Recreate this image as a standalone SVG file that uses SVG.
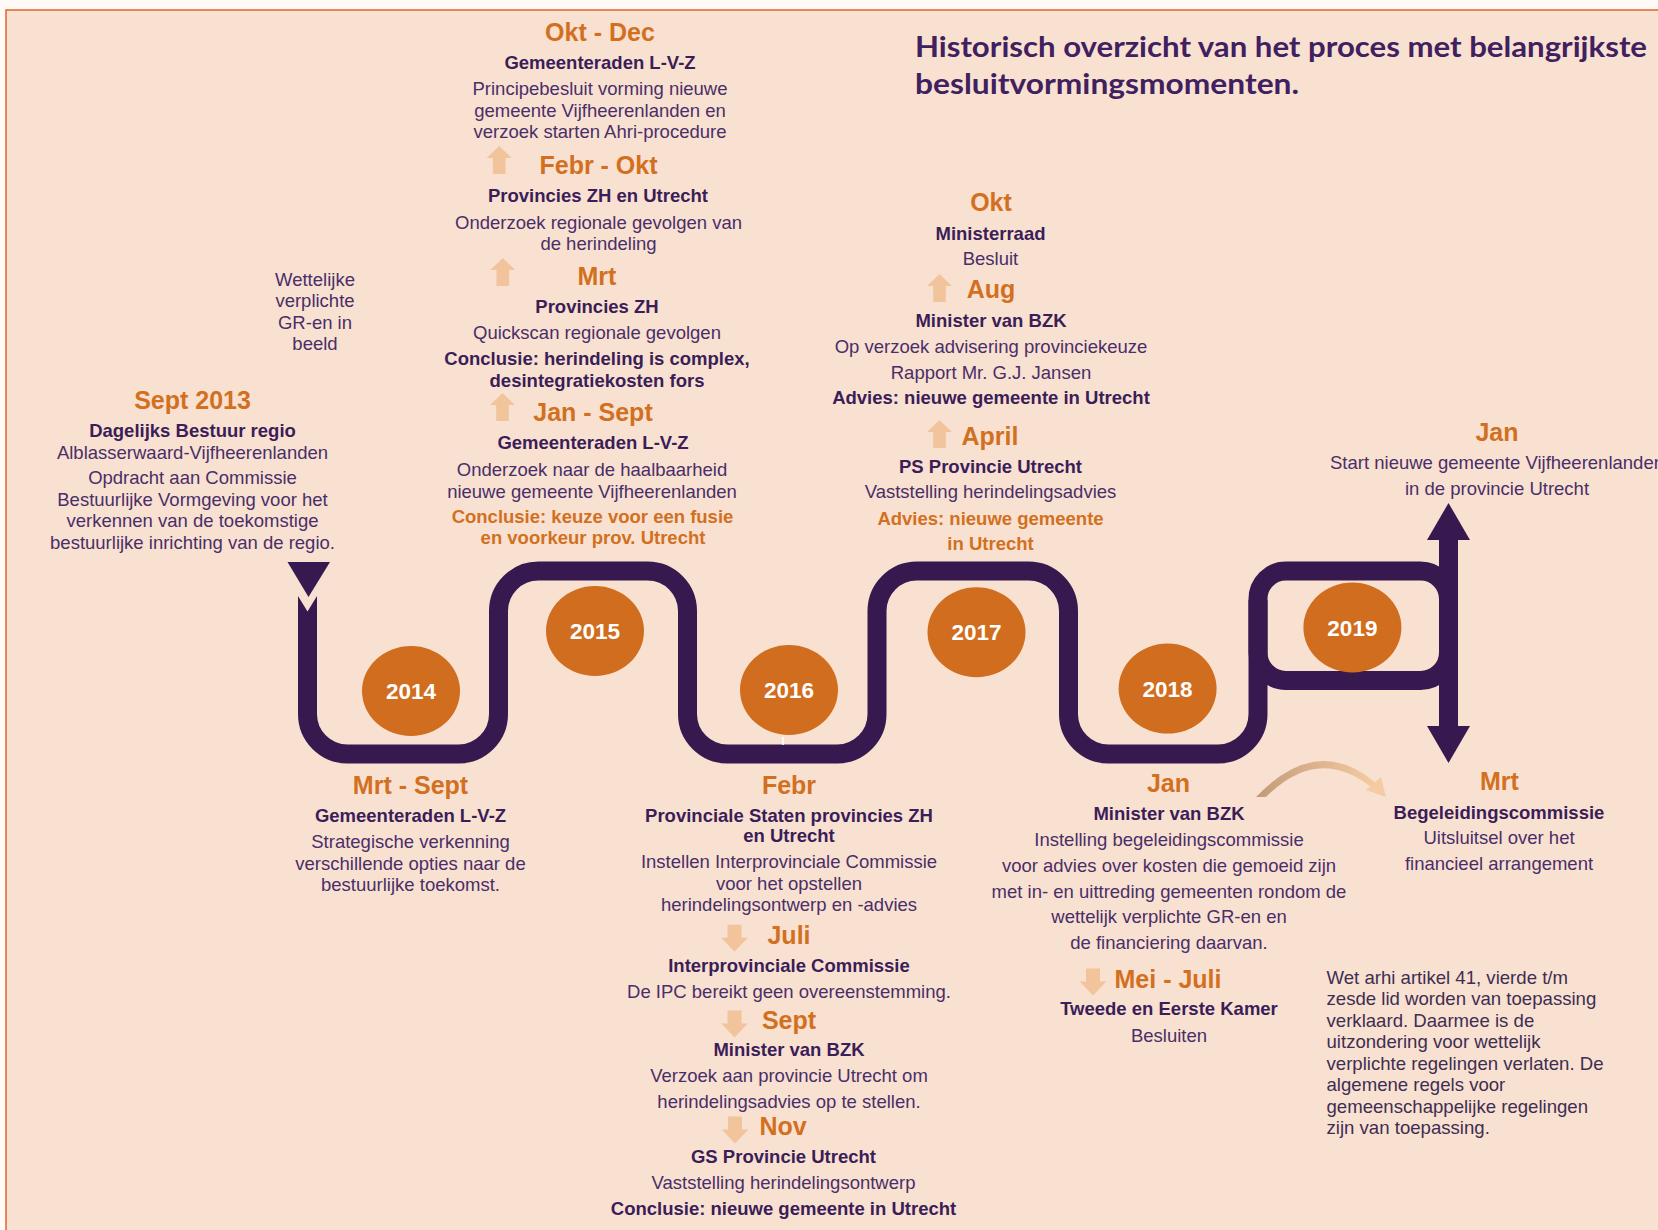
<svg xmlns="http://www.w3.org/2000/svg" width="1658" height="1230" viewBox="0 0 1658 1230">
<defs>
<style>
text { font-family: "Liberation Sans", Arial, sans-serif; }
.h { font-weight: bold; font-size: 25px; fill: #d2701f; text-anchor: middle; }
.b { font-weight: bold; font-size: 18.5px; fill: #3b1d58; text-anchor: middle; }
.r { font-size: 18.5px; fill: #4a2e68; text-anchor: middle; }
.ob { font-weight: bold; font-size: 18.5px; fill: #d2701f; text-anchor: middle; }
.yr { font-weight: bold; font-size: 22.5px; fill: #ffffff; text-anchor: middle; }
.p { font-size: 18.6px; fill: #3f2d52; }
.title { font-family: Lato, "Open Sans", sans-serif; font-weight: bold; font-size: 28px; fill: #40205f; }
.snake { fill: none; stroke: #371950; stroke-width: 19; }
.dot { fill: #d16d1e; }
.la { fill: #f2c49c; }
</style>
<path id="up" d="M0,0 L12.5,12 L6.3,12 L6.3,28 L-6.3,28 L-6.3,12 L-12.5,12 Z"/>
<path id="down" d="M0,0 L13.3,-14 L7,-14 L7,-27 L-7,-27 L-7,-14 L-13.3,-14 Z"/>
<linearGradient id="cg" x1="0" y1="0" x2="1" y2="0">
<stop offset="0" stop-color="#c39b78"/>
<stop offset="1" stop-color="#f5cba3"/>
</linearGradient>
</defs>
<rect x="0" y="0" width="1658" height="1230" fill="#fffaf6"/>
<rect x="6" y="10" width="1700" height="1300" fill="#f8e1d1" stroke="#e2622c" stroke-width="1.5"/>

<g id="title">
<text class="title" x="915" y="57" textLength="732" lengthAdjust="spacingAndGlyphs">Historisch overzicht van het proces met belangrijkste</text>
<text class="title" x="915" y="94" textLength="384" lengthAdjust="spacingAndGlyphs">besluitvormingsmomenten.</text>
</g>

<g id="connectors">
<polygon points="287.5,562 330,562 308.5,597" fill="#371950"/>
<polygon points="298,596 307.5,611.5 317,596 317,616 298,616" fill="#371950"/>
<path class="snake" d="M307.5,612 V714 A40,40 0 0 0 347.5,754 H458.5 A40,40 0 0 0 498.5,714 V611 A40,40 0 0 1 538.5,571 H647.5 A40,40 0 0 1 687.5,611 V714 A40,40 0 0 0 727.5,754 H837 A40,40 0 0 0 877,714 V611 A40,40 0 0 1 917,571 H1028.5 A40,40 0 0 1 1068.5,611 V714 A40,40 0 0 0 1108.5,754 H1218 A40,40 0 0 0 1258,714 V600"/>
<rect class="snake" x="1258" y="571" width="190.5" height="109.5" rx="28"/>
<line class="snake" x1="1448.5" y1="536" x2="1448.5" y2="730"/>
<polygon points="1448.5,503 1470,540 1427,540" fill="#371950"/>
<polygon points="1427,726 1470,726 1448.5,763" fill="#371950"/>
<line x1="783" y1="737" x2="783" y2="745" stroke="#ffffff" stroke-width="1.5"/>
<use href="#up" class="la" x="499.2" y="146"/>
<use href="#up" class="la" x="502.8" y="258"/>
<use href="#up" class="la" x="502.5" y="393"/>
<use href="#up" class="la" x="939.5" y="274"/>
<use href="#up" class="la" x="939.5" y="420"/>
<use href="#down" class="la" x="734.5" y="951.7"/>
<use href="#down" class="la" x="734.5" y="1037.5"/>
<use href="#down" class="la" x="735" y="1143.5"/>
<use href="#down" class="la" x="1093" y="995.5"/>
<path d="M1256,797 Q1317,733 1376,783 L1371,787 Q1318,745 1266,797 Z" fill="url(#cg)"/>
<polygon points="1386,797 1366,790 1381,777" fill="#f5cba3"/>
</g>

<g id="year-2014"><ellipse class="dot" cx="411" cy="691" rx="49" ry="45"/><text class="yr" x="411" y="699">2014</text></g>
<g id="year-2015"><ellipse class="dot" cx="595" cy="631" rx="49" ry="45"/><text class="yr" x="595" y="639">2015</text></g>
<g id="year-2016"><ellipse class="dot" cx="789" cy="690" rx="49" ry="45"/><text class="yr" x="789" y="698">2016</text></g>
<g id="year-2017"><ellipse class="dot" cx="976.5" cy="632.3" rx="49" ry="45"/><text class="yr" x="976.5" y="640.3">2017</text></g>
<g id="year-2018"><ellipse class="dot" cx="1167.6" cy="688.6" rx="49" ry="45"/><text class="yr" x="1167.6" y="696.6">2018</text></g>
<g id="year-2019"><ellipse class="dot" cx="1352.4" cy="627.5" rx="49" ry="45"/><text class="yr" x="1352.4" y="635.5">2019</text></g>

<g id="note-gr">
<text class="r" x="315" y="286">Wettelijke</text>
<text class="r" x="315" y="307">verplichte</text>
<text class="r" x="315" y="328.5">GR-en in</text>
<text class="r" x="315" y="350">beeld</text>
</g>

<g id="ev-2013-sept">
<text class="h" x="192.5" y="408.5">Sept 2013</text>
<text class="b" x="192.5" y="436.5">Dagelijks Bestuur regio</text>
<text class="r" x="192.5" y="458.5">Alblasserwaard-Vijfheerenlanden</text>
<text class="r" x="192.5" y="484">Opdracht aan Commissie</text>
<text class="r" x="192.5" y="506">Bestuurlijke Vormgeving voor het</text>
<text class="r" x="192.5" y="527">verkennen van de toekomstige</text>
<text class="r" x="192.5" y="548.5">bestuurlijke inrichting van de regio.</text>
</g>

<g id="ev-2014-mrt-sept">
<text class="h" x="410.5" y="793.5">Mrt - Sept</text>
<text class="b" x="410.5" y="821.5">Gemeenteraden L-V-Z</text>
<text class="r" x="410.5" y="848">Strategische verkenning</text>
<text class="r" x="410.5" y="870">verschillende opties naar de</text>
<text class="r" x="410.5" y="891">bestuurlijke toekomst.</text>
</g>

<g id="ev-2015-jan-sept">
<text class="h" x="593" y="420.5">Jan - Sept</text>
<text class="b" x="593" y="449">Gemeenteraden L-V-Z</text>
<text class="r" x="592" y="476">Onderzoek naar de haalbaarheid</text>
<text class="r" x="592" y="497.5">nieuwe gemeente Vijfheerenlanden</text>
<text class="ob" x="592.5" y="522.5">Conclusie: keuze voor een fusie</text>
<text class="ob" x="593" y="544">en voorkeur prov. Utrecht</text>
</g>

<g id="ev-2015-mrt">
<text class="h" x="597" y="285">Mrt</text>
<text class="b" x="597" y="313">Provincies ZH</text>
<text class="r" x="597" y="339">Quickscan regionale gevolgen</text>
<text class="b" x="597" y="365">Conclusie: herindeling is complex,</text>
<text class="b" x="597" y="386.5">desintegratiekosten fors</text>
</g>

<g id="ev-2015-febr-okt">
<text class="h" x="598.5" y="173.5">Febr - Okt</text>
<text class="b" x="598" y="201.5">Provincies ZH en Utrecht</text>
<text class="r" x="598.5" y="228.5">Onderzoek regionale gevolgen van</text>
<text class="r" x="598.5" y="249.5">de herindeling</text>
</g>

<g id="ev-2015-okt-dec">
<text class="h" x="600" y="41">Okt - Dec</text>
<text class="b" x="600" y="68.5">Gemeenteraden L-V-Z</text>
<text class="r" x="600" y="95">Principebesluit vorming nieuwe</text>
<text class="r" x="600" y="116.5">gemeente Vijfheerenlanden en</text>
<text class="r" x="600" y="137.5">verzoek starten Ahri-procedure</text>
</g>

<g id="ev-2016-febr">
<text class="h" x="789" y="793.5">Febr</text>
<text class="b" x="789" y="821.5">Provinciale Staten provincies ZH</text>
<text class="b" x="789" y="842">en Utrecht</text>
<text class="r" x="789" y="868">Instellen Interprovinciale Commissie</text>
<text class="r" x="789" y="890">voor het opstellen</text>
<text class="r" x="789" y="910.5">herindelingsontwerp en -advies</text>
</g>

<g id="ev-2016-juli">
<text class="h" x="789" y="943.5">Juli</text>
<text class="b" x="789" y="971.5">Interprovinciale Commissie</text>
<text class="r" x="789" y="997.5">De IPC bereikt geen overeenstemming.</text>
</g>

<g id="ev-2016-sept">
<text class="h" x="789" y="1028.5">Sept</text>
<text class="b" x="789" y="1056">Minister van BZK</text>
<text class="r" x="789" y="1082">Verzoek aan provincie Utrecht om</text>
<text class="r" x="789" y="1107.5">herindelingsadvies op te stellen.</text>
</g>

<g id="ev-2016-nov">
<text class="h" x="783" y="1135">Nov</text>
<text class="b" x="783.5" y="1163">GS Provincie Utrecht</text>
<text class="r" x="783.5" y="1189">Vaststelling herindelingsontwerp</text>
<text class="b" x="783.5" y="1215">Conclusie: nieuwe gemeente in Utrecht</text>
</g>

<g id="ev-2017-april">
<text class="h" x="990" y="445">April</text>
<text class="b" x="990.5" y="473">PS Provincie Utrecht</text>
<text class="r" x="990.5" y="498">Vaststelling herindelingsadvies</text>
<text class="ob" x="990.5" y="525">Advies: nieuwe gemeente</text>
<text class="ob" x="990.5" y="550">in Utrecht</text>
</g>

<g id="ev-2017-aug">
<text class="h" x="991" y="297.5">Aug</text>
<text class="b" x="991" y="327">Minister van BZK</text>
<text class="r" x="991" y="352.5">Op verzoek advisering provinciekeuze</text>
<text class="r" x="991" y="379">Rapport Mr. G.J. Jansen</text>
<text class="b" x="991" y="404">Advies: nieuwe gemeente in Utrecht</text>
</g>

<g id="ev-2017-okt">
<text class="h" x="991" y="211">Okt</text>
<text class="b" x="990.5" y="239.5">Ministerraad</text>
<text class="r" x="990.5" y="265">Besluit</text>
</g>

<g id="ev-2018-jan">
<text class="h" x="1168.5" y="792">Jan</text>
<text class="b" x="1169" y="820">Minister van BZK</text>
<text class="r" x="1169" y="846">Instelling begeleidingscommissie</text>
<text class="r" x="1169" y="871.5">voor advies over kosten die gemoeid zijn</text>
<text class="r" x="1169" y="897.5">met in- en uittreding gemeenten rondom de</text>
<text class="r" x="1169" y="923">wettelijk verplichte GR-en en</text>
<text class="r" x="1169" y="949">de financiering daarvan.</text>
</g>

<g id="ev-2018-mei-juli">
<text class="h" x="1168" y="988">Mei - Juli</text>
<text class="b" x="1169" y="1015">Tweede en Eerste Kamer</text>
<text class="r" x="1169" y="1041.5">Besluiten</text>
</g>

<g id="ev-2019-jan">
<text class="h" x="1497" y="441">Jan</text>
<text class="r" x="1497" y="469">Start nieuwe gemeente Vijfheerenlanden</text>
<text class="r" x="1497" y="495">in de provincie Utrecht</text>
</g>

<g id="ev-2019-mrt">
<text class="h" x="1499.5" y="790">Mrt</text>
<text class="b" x="1499" y="818.5">Begeleidingscommissie</text>
<text class="r" x="1499" y="844">Uitsluitsel over het</text>
<text class="r" x="1499" y="869.5">financieel arrangement</text>
</g>

<g id="note-arhi">
<text class="p" x="1326.5" y="983.5">Wet arhi artikel 41, vierde t/m</text>
<text class="p" x="1326.5" y="1005">zesde lid worden van toepassing</text>
<text class="p" x="1326.5" y="1026.5">verklaard. Daarmee is de</text>
<text class="p" x="1326.5" y="1048">uitzondering voor wettelijk</text>
<text class="p" x="1326.5" y="1069.5">verplichte regelingen verlaten. De</text>
<text class="p" x="1326.5" y="1091">algemene regels voor</text>
<text class="p" x="1326.5" y="1112.5">gemeenschappelijke regelingen</text>
<text class="p" x="1326.5" y="1134">zijn van toepassing.</text>
</g>
</svg>
